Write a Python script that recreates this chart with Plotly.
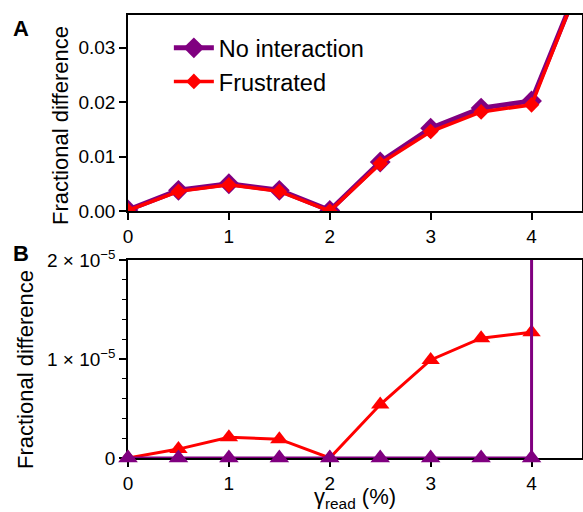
import plotly.graph_objects as go

gamma = [0, 0.5, 1, 1.5, 2, 2.5, 3, 3.5, 4, 4.5]

# Panel A
a_nointer = [0.0002, 0.0038, 0.0050, 0.0038, 0.0001, 0.0090, 0.0152, 0.0189, 0.0202, 0.043]
a_frustr = [0.0001, 0.0036, 0.0048, 0.0036, 0.0000, 0.0087, 0.0146, 0.0182, 0.0195, 0.043]

# Panel B
b_nointer = [0, 0, 0, 0, 0, 0, 0, 0, 0, 0.04]
b_frustr = [0.0, 0.09e-5, 0.21e-5, 0.19e-5, 0.0, 0.54e-5, 0.99e-5, 1.21e-5, 1.27e-5]

xticks = [0, 1, 2, 3, 4]
a_yticks = [0.0, 0.01, 0.02, 0.03]
a_yticklabels = ["0.00", "0.01", "0.02", "0.03"]
b_yticks = [0, 1e-5, 2e-5]
b_yticklabels = ["0", "1 × 10<sup>−5</sup>", "2 × 10<sup>−5</sup>"]

PURPLE = "#800080"
RED = "#ff0000"
FONT = "Liberation Sans, Arial, sans-serif"

fig = go.Figure()

fig.add_trace(go.Scatter(
    x=gamma, y=a_nointer, mode="lines+markers", name="No interaction",
    line=dict(color=PURPLE, width=5),
    marker=dict(symbol="diamond", size=16, color=PURPLE),
    xaxis="x", yaxis="y"))
fig.add_trace(go.Scatter(
    x=gamma, y=a_frustr, mode="lines+markers", name="Frustrated",
    line=dict(color=RED, width=3.5),
    marker=dict(symbol="diamond", size=12, color=RED),
    xaxis="x", yaxis="y"))

fig.add_trace(go.Scatter(
    x=gamma[:len(b_frustr)], y=b_frustr, mode="lines+markers", showlegend=False,
    line=dict(color=RED, width=3),
    marker=dict(symbol="triangle-up", size=16, color=RED),
    xaxis="x2", yaxis="y2", cliponaxis=False))
fig.add_trace(go.Scatter(
    x=gamma, y=b_nointer, mode="lines", showlegend=False,
    line=dict(color=PURPLE, width=3),
    xaxis="x2", yaxis="y2"))
fig.add_trace(go.Scatter(
    x=gamma[:9], y=b_nointer[:9], mode="markers", showlegend=False,
    marker=dict(symbol="triangle-up", size=17, color=PURPLE),
    xaxis="x2", yaxis="y2", cliponaxis=False))

axis_common = dict(showline=True, linecolor="black", linewidth=1.5, mirror=True,
                   ticks="outside", ticklen=7, tickwidth=1.5, tickcolor="black",
                   showgrid=False, zeroline=False, automargin=False,
                   tickfont=dict(family=FONT, size=19, color="black"))

fig.update_layout(
    width=583, height=512,
    margin=dict(l=128, r=1, t=15, b=54),
    paper_bgcolor="white", plot_bgcolor="white",
    font=dict(family=FONT, color="black"),
    xaxis=dict(domain=[0, 1], range=[0, 4.5], tickvals=xticks, anchor="y", **axis_common),
    yaxis=dict(domain=[0.5576, 1], range=[0, 0.036], tickvals=a_yticks, ticktext=a_yticklabels,
               anchor="x", **axis_common),
    xaxis2=dict(domain=[0, 1], range=[0, 4.5], tickvals=xticks, anchor="y2", layer="below traces",
                title=dict(text="γ<sub>read</sub> (%)", font=dict(family=FONT, size=22), standoff=10),
                **axis_common),
    yaxis2=dict(domain=[0, 0.447], range=[0, 2e-5], tickvals=b_yticks, ticktext=b_yticklabels,
                anchor="x2", layer="below traces",
                minor=dict(dtick=0.2e-5, ticks="outside", ticklen=4, tickwidth=1.2, tickcolor="black"),
                **axis_common),
    legend=dict(x=0.09, y=0.975, xanchor="left", yanchor="top",
                bgcolor="rgba(0,0,0,0)", font=dict(family=FONT, size=23.5),
                tracegroupgap=0, itemwidth=40),
)

plot_w = 583 - 128 - 1
plot_h = 512 - 15 - 54


def px2paper(px, py):
    return (px - 128) / plot_w, (512 - 54 - py) / plot_h


for letter, px, py in [("A", 21, 28), ("B", 21, 254)]:
    x, y = px2paper(px, py)
    fig.add_annotation(text=f"<b>{letter}</b>", showarrow=False,
                       x=x, y=y, xref="paper", yref="paper", xanchor="center", yanchor="middle",
                       font=dict(family=FONT, size=22, color="black"))

for px, py in [(60, 126), (25, 370)]:
    x, y = px2paper(px, py)
    fig.add_annotation(text="Fractional difference", showarrow=False, textangle=-90,
                       x=x, y=y, xref="paper", yref="paper", xanchor="center", yanchor="middle",
                       font=dict(family=FONT, size=22, color="black"))

fig.write_html("out.html")
